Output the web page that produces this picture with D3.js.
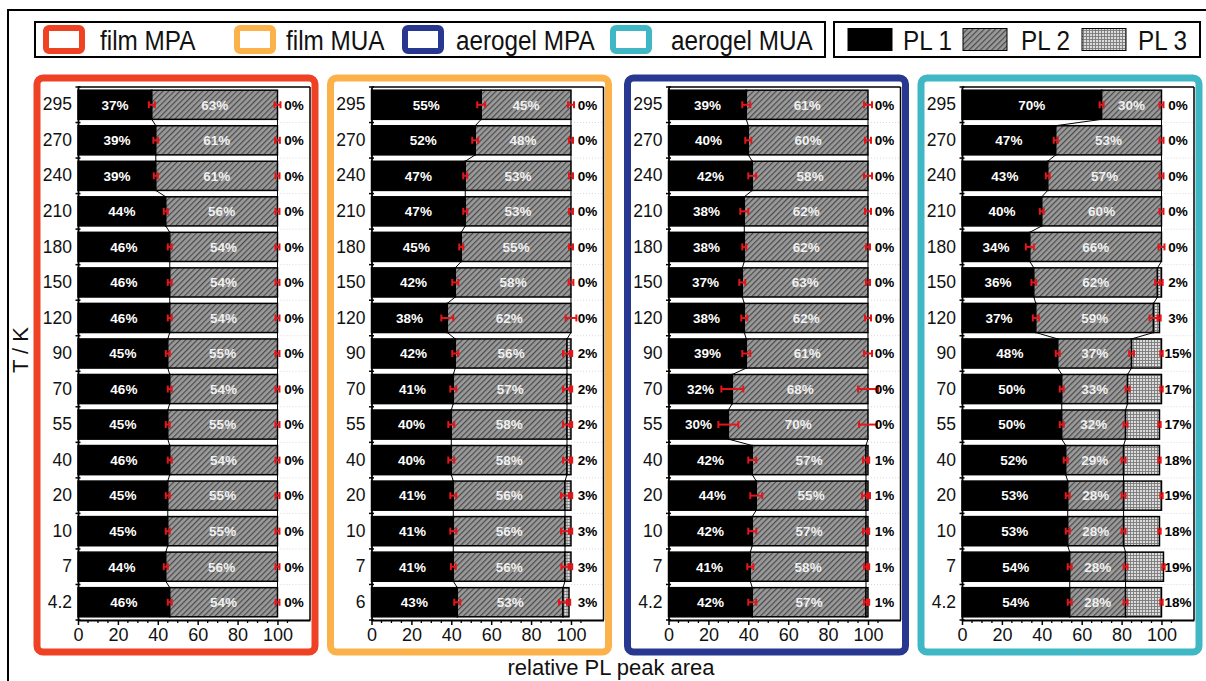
<!DOCTYPE html>
<html>
<head>
<meta charset="utf-8">
<script src="https://cdn.jsdelivr.net/npm/d3@7"></script>
<style>
  html, body { margin: 0; padding: 0; background: #fff; }
  svg { display: block; font-family: "Liberation Sans", Arial, sans-serif; }
</style>
</head>
<body>
<svg id="chart" width="1206" height="681"></svg>
<script>
// Temperatures (K), top row first
const temps = ["295", "270", "240", "210", "180", "150", "120", "90", "70", "55", "40", "20", "10", "7", "4.2"];
const tempsFilmMUA = ["295", "270", "240", "210", "180", "150", "120", "90", "70", "55", "40", "20", "10", "7", "6"];

const sampleNames = ["film MPA", "film MUA", "aerogel MPA", "aerogel MUA"];
const sampleColors = ["#ef4123", "#fbb24a", "#283891", "#40b7c5"];
const peakNames = ["PL 1", "PL 2", "PL 3"];

// Relative PL peak areas (%)
const filmMPA_PL1 = [37, 39, 39, 44, 46, 46, 46, 45, 46, 45, 46, 45, 45, 44, 46];
const filmMPA_PL2 = [63, 61, 61, 56, 54, 54, 54, 55, 54, 55, 54, 55, 55, 56, 54];
const filmMPA_PL3 = [0, 0, 0, 0, 0, 0, 0, 0, 0, 0, 0, 0, 0, 0, 0];

const filmMUA_PL1 = [55, 52, 47, 47, 45, 42, 38, 42, 41, 40, 40, 41, 41, 41, 43];
const filmMUA_PL2 = [45, 48, 53, 53, 55, 58, 62, 56, 57, 58, 58, 56, 56, 56, 53];
const filmMUA_PL3 = [0, 0, 0, 0, 0, 0, 0, 2, 2, 2, 2, 3, 3, 3, 3];

const aeroMPA_PL1 = [39, 40, 42, 38, 38, 37, 38, 39, 32, 30, 42, 44, 42, 41, 42];
const aeroMPA_PL2 = [61, 60, 58, 62, 62, 63, 62, 61, 68, 70, 57, 55, 57, 58, 57];
const aeroMPA_PL3 = [0, 0, 0, 0, 0, 0, 0, 0, 0, 0, 1, 1, 1, 1, 1];

const aeroMUA_PL1 = [70, 47, 43, 40, 34, 36, 37, 48, 50, 50, 52, 53, 53, 54, 54];
const aeroMUA_PL2 = [30, 53, 57, 60, 66, 62, 59, 37, 33, 32, 29, 28, 28, 28, 28];
const aeroMUA_PL3 = [0, 0, 0, 0, 0, 2, 3, 15, 17, 17, 18, 19, 18, 19, 18];

// Uncertainties (half widths, %) at the PL1 and PL1+PL2 boundaries
const filmMPA_err1 = [1.5, 1.2, 1, 1, 1, 1, 1, 1, 1, 1, 1, 1, 1, 1, 1];
const filmMPA_err2 = [1.5, 1.2, 1, 1, 1, 1, 1, 1, 1, 1, 1, 1, 1, 1, 1];
const filmMUA_err1 = [2, 1.5, 1, 1, 1, 1.5, 3, 1.5, 1.5, 1.5, 1.5, 1.5, 1.5, 1.2, 1.5];
const filmMUA_err2 = [1.5, 1, 1, 1, 1, 1.2, 2.7, 2, 2, 2, 2, 2, 2, 1.8, 2];
const aeroMPA_err1 = [2, 1.5, 2, 2, 1, 1.5, 1.5, 2, 5.5, 5, 2, 3, 2, 1.5, 2];
const aeroMPA_err2 = [2, 1.5, 2, 1.5, 1, 1, 1.5, 2, 5, 4.5, 1.5, 2, 1.5, 1, 1];
const aeroMUA_err1 = [1, 1, 1, 1, 2, 1.2, 1.5, 1, 1, 1, 1, 1, 1, 1, 1];
const aeroMUA_err2 = [1, 1, 1, 1, 1.5, 1.2, 2, 1.2, 1, 1, 1, 1, 1, 1, 1];

// Tick values on the shared horizontal axis
const xMajorTicks = [0, 20, 40, 60, 80, 100];
const xMinorTicks = d3.range(0, 106, 5);

const panels = [
  { name: sampleNames[0], color: sampleColors[0], labels: temps, pl1: filmMPA_PL1, pl2: filmMPA_PL2, pl3: filmMPA_PL3, e1: filmMPA_err1, e2: filmMPA_err2 },
  { name: sampleNames[1], color: sampleColors[1], labels: tempsFilmMUA, pl1: filmMUA_PL1, pl2: filmMUA_PL2, pl3: filmMUA_PL3, e1: filmMUA_err1, e2: filmMUA_err2 },
  { name: sampleNames[2], color: sampleColors[2], labels: temps, pl1: aeroMPA_PL1, pl2: aeroMPA_PL2, pl3: aeroMPA_PL3, e1: aeroMPA_err1, e2: aeroMPA_err2 },
  { name: sampleNames[3], color: sampleColors[3], labels: temps, pl1: aeroMUA_PL1, pl2: aeroMUA_PL2, pl3: aeroMUA_PL3, e1: aeroMUA_err1, e2: aeroMUA_err2 }
];

const svg = d3.select("#chart");

// Fill patterns for PL 2 (diagonal hatch) and PL 3 (fine grid)
const defs = svg.append("defs");
const hatch = defs.append("pattern").attr("id", "hatch")
  .attr("patternUnits", "userSpaceOnUse").attr("width", 4).attr("height", 4)
  .attr("patternTransform", "rotate(45)");
hatch.append("rect").attr("width", 4).attr("height", 4).attr("fill", "#9a9a9a");
hatch.append("line").attr("x1", 0.6).attr("y1", 0).attr("x2", 0.6).attr("y2", 4)
  .attr("stroke", "#4a4a4a").attr("stroke-width", 1.2);
const grid = defs.append("pattern").attr("id", "grid")
  .attr("patternUnits", "userSpaceOnUse").attr("width", 3).attr("height", 3);
grid.append("rect").attr("width", 3).attr("height", 3).attr("fill", "#dcdcdc");
grid.append("path").attr("d", "M0 0.5H3M0.5 0V3").attr("stroke", "#7a7a7a").attr("stroke-width", 0.9);

const fills = ["#000", "url(#hatch)", "url(#grid)"];

// Outer frame
svg.append("rect").attr("x", 8).attr("y", 10).attr("width", 1400).attr("height", 900)
  .attr("fill", "none").attr("stroke", "#000").attr("stroke-width", 2);

// legend text is set slightly condensed
function legendText(sel, xPos, label) {
  sel.append("text").attr("transform", `translate(${xPos},49.5) scale(0.9,1)`)
    .attr("font-size", 27).attr("fill", "#111").text(label);
}

// Sample legend
const leg1 = svg.append("g");
leg1.append("rect").attr("x", 35).attr("y", 22).attr("width", 790).attr("height", 35)
  .attr("fill", "#fff").attr("stroke", "#000").attr("stroke-width", 2);
const sampleLegendX = [46, 237, 405, 613];
const sampleTextX = [100, 286, 456, 671];
sampleNames.forEach((n, i) => {
  leg1.append("rect").attr("x", sampleLegendX[i]).attr("y", 28).attr("width", 36).attr("height", 23)
    .attr("rx", 3).attr("fill", "#fff").attr("stroke", sampleColors[i]).attr("stroke-width", 6);
  legendText(leg1, sampleTextX[i], n);
});

// Peak legend
const leg2 = svg.append("g");
leg2.append("rect").attr("x", 834).attr("y", 22).attr("width", 366).attr("height", 35)
  .attr("fill", "#fff").attr("stroke", "#000").attr("stroke-width", 2);
const peakLegendX = [848, 963, 1082];
const peakTextX = [903, 1021, 1138];
peakNames.forEach((n, i) => {
  leg2.append("rect").attr("x", peakLegendX[i]).attr("y", 28.5).attr("width", 44).attr("height", 22)
    .attr("fill", fills[i]).attr("stroke", "#000").attr("stroke-width", 1);
  legendText(leg2, peakTextX[i], n);
});

// Shared scales
const plotTop = 87, plotBottom = 620;
const x = d3.scaleLinear().domain([0, 116.3]).range([0, 232]);
const panelX = [78, 371.5, 668.5, 962];

panels.forEach((p, pi) => {
  const y = d3.scaleBand().domain(p.labels).range([plotTop, plotBottom])
    .paddingInner(0.18).paddingOuter(0.09);
  const bw = y.bandwidth();
  const g = svg.append("g").attr("transform", `translate(${panelX[pi]},0)`);

  // coloured panel border
  g.append("rect").attr("x", -41).attr("y", 78).attr("width", 278).attr("height", 574)
    .attr("rx", 6).attr("fill", "none").attr("stroke", p.color).attr("stroke-width", 7);

  const rows = p.labels.map((t, i) => ({
    t, pl1: p.pl1[i], pl2: p.pl2[i], pl3: p.pl3[i], e1: p.e1[i], e2: p.e2[i]
  }));

  // faint dotted guides right of the bars
  g.selectAll("line.guide").data(p.labels.slice(1)).join("line")
    .attr("x1", x(100)).attr("x2", x(116.3))
    .attr("y1", t => y(t) - (y.step() - bw) / 2).attr("y2", t => y(t) - (y.step() - bw) / 2)
    .attr("stroke", "#d8d8d8").attr("stroke-dasharray", "1,2");

  // stacked segments
  const segs = [];
  rows.forEach(r => {
    segs.push({ t: r.t, x0: 0, x1: r.pl1, k: 0 });
    segs.push({ t: r.t, x0: r.pl1, x1: r.pl1 + r.pl2, k: 1 });
    if (r.pl3 > 0) segs.push({ t: r.t, x0: r.pl1 + r.pl2, x1: r.pl1 + r.pl2 + r.pl3, k: 2 });
  });
  g.selectAll("rect.seg").data(segs).join("rect")
    .attr("x", d => x(d.x0)).attr("y", d => y(d.t))
    .attr("width", d => x(d.x1) - x(d.x0)).attr("height", bw)
    .attr("fill", d => fills[d.k]).attr("stroke", "#000").attr("stroke-width", 1.5);

  // connector lines between neighbouring bars
  const conns = [];
  for (let i = 0; i < rows.length - 1; i++) {
    const a = rows[i], b = rows[i + 1];
    conns.push([a.t, a.pl1, b.t, b.pl1]);
    conns.push([a.t, a.pl1 + a.pl2, b.t, b.pl1 + b.pl2]);
  }
  g.selectAll("line.conn").data(conns).join("line")
    .attr("x1", d => x(d[1])).attr("y1", d => y(d[0]) + bw)
    .attr("x2", d => x(d[3])).attr("y2", d => y(d[2]))
    .attr("stroke", "#000").attr("stroke-width", 1);

  // frame
  g.append("line").attr("x1", 0).attr("x2", x(116.3)).attr("y1", plotTop).attr("y2", plotTop)
    .attr("stroke", "#000").attr("stroke-width", 1.5);
  g.append("line").attr("x1", x(116.3)).attr("x2", x(116.3)).attr("y1", plotTop).attr("y2", plotBottom)
    .attr("stroke", "#000").attr("stroke-width", 1.5);

  // x axis
  const xAxis = g.append("g").attr("transform", `translate(0,${plotBottom})`);
  xAxis.call(d3.axisBottom(x).tickValues(xMajorTicks).tickSize(5).tickSizeOuter(0).tickPadding(3));
  xAxis.select(".domain").attr("stroke-width", 1.8);
  xAxis.selectAll(".tick line").attr("stroke-width", 1.5);
  xAxis.selectAll(".tick text").attr("font-size", 18).attr("fill", "#111")
    .attr("font-family", "Liberation Sans, Arial, sans-serif");
  xAxis.selectAll("line.minor").data(xMinorTicks.filter(v => v % 20 !== 0)).join("line")
    .attr("x1", v => x(v)).attr("x2", v => x(v)).attr("y1", 0).attr("y2", 3)
    .attr("stroke", "#000").attr("stroke-width", 1.3);

  // y axis
  const yAxis = g.append("g");
  yAxis.call(d3.axisLeft(y).tickSize(0).tickPadding(6));
  yAxis.select(".domain").attr("stroke-width", 1.8);
  yAxis.selectAll(".tick text").attr("font-size", 17.5).attr("fill", "#111")
    .attr("font-family", "Liberation Sans, Arial, sans-serif");
  const bounds = p.labels.map(t => y(t) - (y.step() - bw) / 2).concat([plotBottom]);
  yAxis.selectAll("line.yt").data(bounds).join("line")
    .attr("x1", -2.5).attr("x2", 2.5).attr("y1", v => v).attr("y2", v => v)
    .attr("stroke", "#000").attr("stroke-width", 1.5);

  // error bars
  const errs = [];
  rows.forEach(r => {
    errs.push({ t: r.t, v: r.pl1, e: r.e1 });
    errs.push({ t: r.t, v: r.pl1 + r.pl2, e: r.e2 });
    if (r.pl3 > 0) errs.push({ t: r.t, v: r.pl1 + r.pl2 + r.pl3, e: 0.6 });
  });
  const eg = g.append("g").attr("stroke", "#e3161b").attr("stroke-width", 2);
  eg.selectAll("line.eb").data(errs).join("line")
    .attr("x1", d => x(d.v - d.e)).attr("x2", d => x(d.v + d.e))
    .attr("y1", d => y(d.t) + bw / 2).attr("y2", d => y(d.t) + bw / 2);
  eg.selectAll("line.cl").data(errs).join("line")
    .attr("x1", d => x(d.v - d.e)).attr("x2", d => x(d.v - d.e))
    .attr("y1", d => y(d.t) + bw / 2 - 3.5).attr("y2", d => y(d.t) + bw / 2 + 3.5);
  eg.selectAll("line.cr").data(errs).join("line")
    .attr("x1", d => x(d.v + d.e)).attr("x2", d => x(d.v + d.e))
    .attr("y1", d => y(d.t) + bw / 2 - 3.5).attr("y2", d => y(d.t) + bw / 2 + 3.5);

  // value labels
  const lg = g.append("g").attr("font-size", 13.5).attr("font-weight", "bold").attr("text-anchor", "middle");
  lg.selectAll("text.l1").data(rows).join("text")
    .attr("x", r => x(r.pl1 / 2)).attr("y", r => y(r.t) + bw / 2 + 4.8)
    .attr("fill", "#fff").text(r => r.pl1 + "%");
  lg.selectAll("text.l2").data(rows).join("text")
    .attr("x", r => x(r.pl1 + r.pl2 / 2)).attr("y", r => y(r.t) + bw / 2 + 4.8)
    .attr("fill", "#f0f0f0").text(r => r.pl2 + "%");
  lg.selectAll("text.l3").data(rows).join("text")
    .attr("x", x(108.3)).attr("y", r => y(r.t) + bw / 2 + 4.8)
    .attr("fill", "#000").text(r => r.pl3 + "%");
});

// Axis titles
svg.append("text").attr("transform", "translate(28,350) rotate(-90)")
  .attr("text-anchor", "middle").attr("font-size", 22).attr("fill", "#111").text("T / K");
svg.append("text").attr("x", 611).attr("y", 675)
  .attr("text-anchor", "middle").attr("font-size", 22).attr("fill", "#111").text("relative PL peak area");
</script>
</body>
</html>
